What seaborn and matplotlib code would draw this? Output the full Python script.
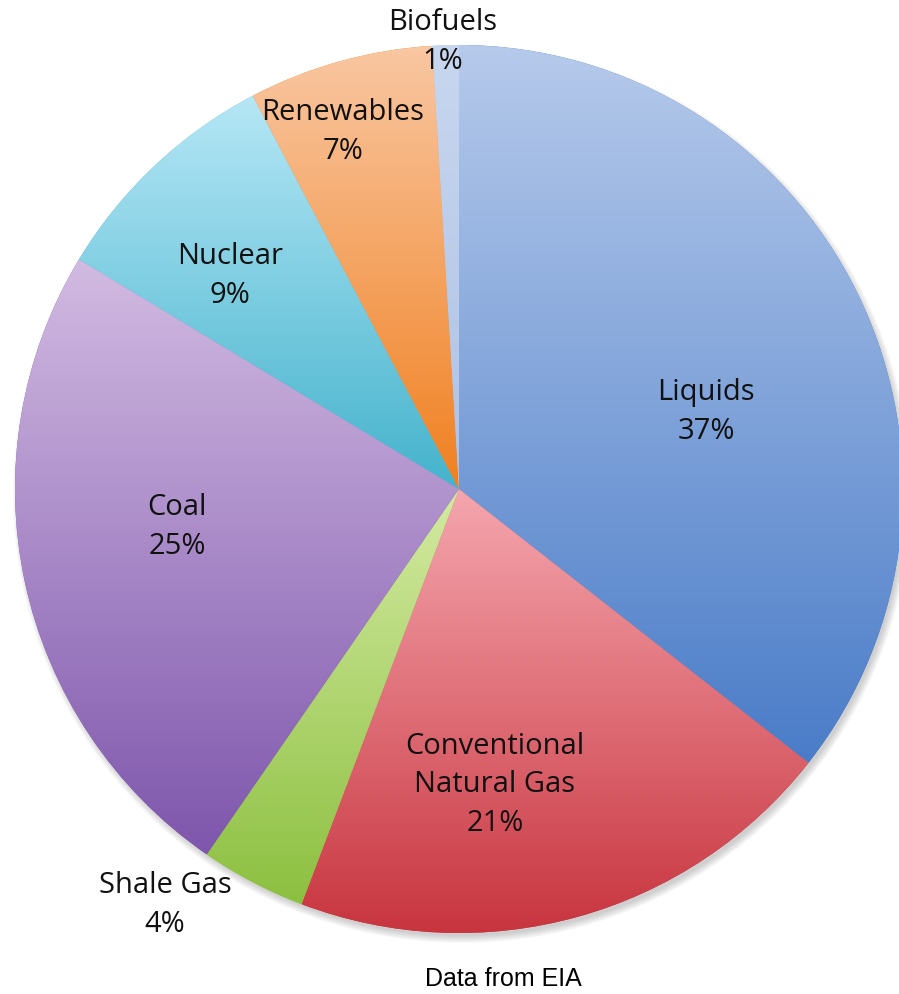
import numpy as np
import matplotlib
matplotlib.use("Agg")
import matplotlib.pyplot as plt
import seaborn as sns
from matplotlib.colors import to_rgb
from matplotlib.patches import Circle

# World energy consumption by source (percent)
sources = ["Liquids", "Conventional\nNatural Gas", "Shale Gas", "Coal",
           "Nuclear", "Renewables", "Biofuels"]
shares = [37, 21, 4, 25, 9, 7, 1]

# Slice gradients: light at the top of each slice, deeper at the bottom
top_colors = ["#b6caeb", "#f5a6ae", "#d4eaa2", "#d2bbe2", "#b6e7f6", "#f9c7a2", "#c8d7ef"]
bottom_colors = ["#4a7cc8", "#c8353f", "#8cc040", "#7e56ac", "#44b3cc", "#f08020", "#aec2e6"]

# Label block offsets from the pie centre, in pixels (right, down)
label_offsets = [(247, -77), (36, 296), (-294, 416), (-282, 38),
                 (-229, -213), (-116, -357), (-16, -447)]

sns.set_theme(style="white")
plt.rcParams["font.family"] = ["Open Sans", "DejaVu Sans"]

W, H = 899, 994
fig = plt.figure(figsize=(W / 100, H / 100), dpi=100)
ax = fig.add_axes([0, 0, 1, 1])

cx, cy, R = 459, H - 489, 444

# soft drop shadow under the pie
for i in range(8):
    ax.add_patch(Circle((cx + 3, cy - 5), R + 5 - i, facecolor="0.3",
                        alpha=0.035, lw=0, zorder=0))

wedges, _ = ax.pie(shares, startangle=90, counterclock=False,
                   center=(cx, cy), radius=R,
                   colors=bottom_colors,
                   wedgeprops=dict(linewidth=0))

t = np.linspace(0, 1, 256)[:, None, None]
for w, ctop, cbot in zip(wedges, top_colors, bottom_colors):
    w.set_zorder(1)
    ext = w.get_path().get_extents()
    top, bot = np.array(to_rgb(ctop)), np.array(to_rgb(cbot))
    grad = bot + (top - bot) * t
    im = ax.imshow(grad, extent=(ext.x0, ext.x1, ext.y0, ext.y1),
                   origin="lower", interpolation="bilinear",
                   aspect="auto", zorder=2)
    im.set_clip_path(w)

for name, val, (dx, dy) in zip(sources, shares, label_offsets):
    ax.text(cx + dx, cy - dy, f"{name}\n{val}%", ha="center", va="center",
            fontsize=21, color="#111111", linespacing=1.45, zorder=5)

ax.text(503, H - 979, "Data from EIA", ha="center", va="center",
        fontsize=18, family=["Liberation Sans", "DejaVu Sans"], color="black")

ax.set_xlim(0, W)
ax.set_ylim(0, H)
ax.set_aspect("equal")
ax.axis("off")

fig.savefig("out.png", dpi=100)
